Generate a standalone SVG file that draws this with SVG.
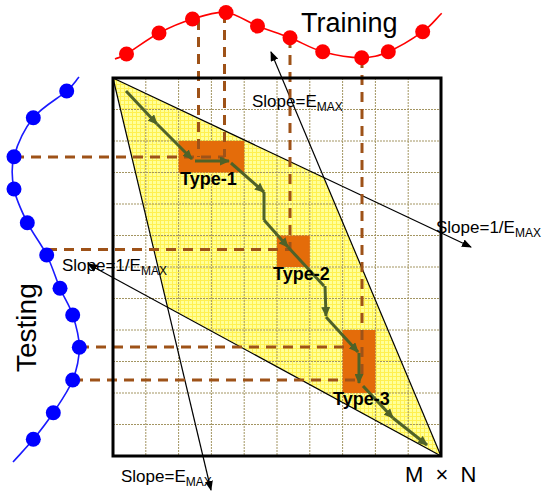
<svg xmlns="http://www.w3.org/2000/svg" width="543" height="494" viewBox="0 0 543 494">
<style>
.grid{stroke:#A39562;stroke-width:1;stroke-dasharray:2,1;fill:none}
.slope{stroke:#000;stroke-width:1.2;fill:none}
.dash{stroke:#9E5218;stroke-width:3;stroke-dasharray:10,7;fill:none}
.gp{stroke:#4F6228;stroke-width:3;fill:none}
.org{fill:#E46C0A}
.lbl{font-family:"Liberation Sans",Arial,sans-serif;font-size:17px;fill:#000}
.sub{font-size:12px}
.type{font-family:"Liberation Sans",Arial,sans-serif;font-size:18px;font-weight:bold;fill:#000}
.big{font-family:"Liberation Sans",Arial,sans-serif;font-size:27px;fill:#000}
.rdot{fill:#FF0000}
.bdot{fill:#0000FF}
</style>
<defs>
<pattern id="yp" width="4" height="4" patternUnits="userSpaceOnUse">
<rect width="4" height="4" fill="#FFFF99"/>
<path d="M0 0.5H4M0.5 0V4" stroke="#FFF050" stroke-width="1"/>
</pattern>
<marker id="ab" markerWidth="10" markerHeight="8" refX="9" refY="4" orient="auto" markerUnits="userSpaceOnUse">
<path d="M0 0L10 4L0 8z" fill="#000"/>
</marker>
<marker id="ag" markerWidth="10" markerHeight="9" refX="9" refY="4.5" orient="auto" markerUnits="userSpaceOnUse">
<path d="M0 0L10 4.5L0 9z" fill="#4F6228"/>
</marker>
</defs>
<rect width="543" height="494" fill="#fff"/>

<g id="band">
<polygon points="113,78 323.8,177.5 441,456 167.5,307.1" fill="url(#yp)"/>
</g>

<g id="grid">
<path class="grid" d="M145.8 78V456M178.6 78V456M211.4 78V456M244.2 78V456M277 78V456M309.8 78V456M342.6 78V456M375.4 78V456M408.2 78V456"/>
<path class="grid" d="M113 109.5H441M113 141H441M113 172.5H441M113 204H441M113 235.5H441M113 267H441M113 298.5H441M113 330H441M113 361.5H441M113 393H441M113 424.5H441"/>
</g>

<g id="cells">
<rect id="type1-cell" class="org" x="178.6" y="141" width="65.6" height="31.5"/>
<rect id="type2-cell" class="org" x="277" y="235.5" width="32.8" height="31.5"/>
<rect id="type3-cell" class="org" x="342.6" y="330" width="32.8" height="63"/>
</g>

<g id="slope-lines">
<line class="slope" x1="113" y1="78" x2="471" y2="247" marker-end="url(#ab)"/>
<line class="slope" x1="441" y1="456" x2="271" y2="52" marker-end="url(#ab)"/>
<line class="slope" x1="441" y1="456" x2="88" y2="264" marker-end="url(#ab)"/>
<line class="slope" x1="113" y1="78" x2="211" y2="490" marker-end="url(#ab)"/>
</g>

<g id="projections">
<path class="dash" d="M198.5 20V157"/>
<path class="dash" d="M224.5 13V157"/>
<path class="dash" d="M290 38V249"/>
<path class="dash" d="M362 58V380"/>
<path class="dash" d="M14 157H224.5"/>
<path class="dash" d="M47 249.5H290"/>
<path class="dash" d="M79 347H356"/>
<path class="dash" d="M73 380H362"/>
</g>

<g id="warp-path">
<line class="gp" x1="126" y1="91" x2="157" y2="124" marker-end="url(#ag)"/>
<line class="gp" x1="157" y1="124" x2="192" y2="159" marker-end="url(#ag)"/>
<line class="gp" x1="195" y1="161" x2="229" y2="161" marker-end="url(#ag)"/>
<line class="gp" x1="231" y1="163" x2="264" y2="192" marker-end="url(#ag)"/>
<line class="gp" x1="264" y1="192" x2="264" y2="220"/>
<line class="gp" x1="264" y1="220" x2="288" y2="247" marker-end="url(#ag)"/>
<line class="gp" x1="288" y1="247" x2="324" y2="286"/>
<line class="gp" x1="325" y1="286" x2="326" y2="316" marker-end="url(#ag)"/>
<line class="gp" x1="326" y1="317" x2="358" y2="352" marker-end="url(#ag)"/>
<line class="gp" x1="359" y1="353" x2="359" y2="383" marker-end="url(#ag)"/>
<line class="gp" x1="363" y1="386" x2="393" y2="418" marker-end="url(#ag)"/>
<line class="gp" x1="393" y1="418" x2="427" y2="445" marker-end="url(#ag)"/>
</g>

<g id="matrix-frame">
<rect x="113" y="78" width="328" height="378" fill="none" stroke="#000" stroke-width="3"/>
</g>

<g id="training">
<path d="M115 59C118.8 57.3 119.2 58.3 126.5 54C133.8 49.7 148 38.8 159 33C170 27.2 181.3 22.4 192.5 19C203.7 15.6 215.2 11.3 226 12.5C236.8 13.7 246.8 21.8 257.5 26C268.2 30.2 279.1 33.4 290 37.7C300.9 42 310.8 48.4 322.7 51.7C334.7 55 350.8 57.7 361.7 57.7C372.6 57.7 378.1 56 388.3 51.7C398.5 47.4 413.8 38.1 422.7 31.7C431.6 25.3 435.4 19.4 441.7 13.3" fill="none" stroke="#FF0000" stroke-width="1.6"/>
<circle class="rdot" cx="126.5" cy="54" r="7.5"/>
<circle class="rdot" cx="159" cy="33" r="7.5"/>
<circle class="rdot" cx="192.5" cy="19" r="7.5"/>
<circle class="rdot" cx="226" cy="12.5" r="7.5"/>
<circle class="rdot" cx="257.5" cy="26" r="7.5"/>
<circle class="rdot" cx="290" cy="37.7" r="7.5"/>
<circle class="rdot" cx="322.7" cy="51.7" r="7.5"/>
<circle class="rdot" cx="361.7" cy="57.7" r="7.5"/>
<circle class="rdot" cx="388.3" cy="51.7" r="7.5"/>
<circle class="rdot" cx="422.7" cy="31.7" r="7.5"/>
<text class="big" x="301" y="32">Training</text>
</g>

<g id="testing">
<path d="M79 77C74.9 81.7 74.3 84.2 66.7 91C59.1 97.8 42.1 106.8 33.3 117.7C24.5 128.7 17.2 144.8 14 156.7C10.8 168.6 11.8 178 14 189C16.2 200 21.9 211.7 27.3 222.7C32.8 233.7 41.3 244.1 46.7 255C52.2 265.9 55.7 278.3 60 288.3C64.3 298.3 69.5 305.2 72.7 315C75.9 324.8 79.3 336.5 79.3 347.3C79.3 358.1 77 369.1 72.7 380C68.4 390.9 59.9 402.8 53.3 412.7C46.7 422.6 40 431.1 33.3 439.3C26.6 447.5 19.8 454.4 13 462" fill="none" stroke="#1A1AFF" stroke-width="1.6"/>
<circle class="bdot" cx="66.7" cy="91" r="7.5"/>
<circle class="bdot" cx="33.3" cy="117.7" r="7.5"/>
<circle class="bdot" cx="14" cy="156.7" r="7.5"/>
<circle class="bdot" cx="14" cy="189" r="7.5"/>
<circle class="bdot" cx="27.3" cy="222.7" r="7.5"/>
<circle class="bdot" cx="46.7" cy="255" r="7.5"/>
<circle class="bdot" cx="60" cy="288.3" r="7.5"/>
<circle class="bdot" cx="72.7" cy="315" r="7.5"/>
<circle class="bdot" cx="79.3" cy="347.3" r="7.5"/>
<circle class="bdot" cx="72.7" cy="380" r="7.5"/>
<circle class="bdot" cx="53.3" cy="412.7" r="7.5"/>
<circle class="bdot" cx="33.3" cy="439.3" r="7.5"/>
<text class="big" transform="translate(36,372) rotate(-90)" style="font-size:28px">Testing</text>
</g>

<g id="labels">
<text class="lbl" x="252" y="107">Slope=E<tspan class="sub" dy="4">MAX</tspan></text>
<text class="lbl" x="436" y="233">Slope=1/E<tspan class="sub" dy="4">MAX</tspan></text>
<text class="lbl" x="62" y="271">Slope=1/E<tspan class="sub" dy="4">MAX</tspan></text>
<text class="lbl" x="121" y="482">Slope=E<tspan class="sub" dy="4">MAX</tspan></text>
<text class="type" x="180" y="185">Type-1</text>
<text class="type" x="273" y="280">Type-2</text>
<text class="type" x="333" y="405">Type-3</text>
<text class="big" x="405" y="482" style="font-size:22px;word-spacing:6px">M × N</text>
</g>
</svg>
